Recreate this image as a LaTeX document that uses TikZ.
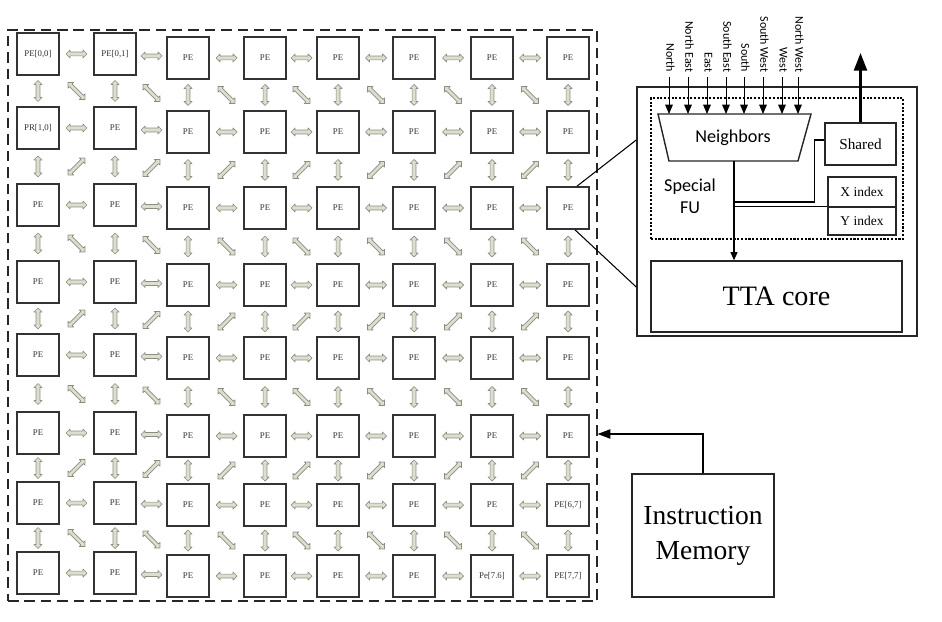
\documentclass[tikz,border=0pt]{standalone}
\usepackage{fontspec}
\setmainfont{Liberation Serif}
\newfontfamily\calib{Carlito}
\usetikzlibrary{arrows.meta,calc}
\definecolor{arrfill}{HTML}{DEDED0}
\definecolor{arrdraw}{HTML}{8C8C80}
\tikzset{
  pe/.style={draw=black!80, line width=1.45pt, fill=white, minimum width=1.26cm, minimum height=1.26cm, inner sep=0pt, text=black!80, font=\fontsize{7.5}{9}\selectfont},
  box/.style={draw=black!85, line width=1.2pt, inner sep=0pt},
  dblarr/.pic={\draw[fill=arrfill,draw=arrdraw,line width=0.6pt,line join=round]
     (-#1,0) -- ({-#1+4},4) -- ({-#1+4},1.9) -- ({#1-4},1.9) -- ({#1-4},4) -- (#1,0)
     -- ({#1-4},-4) -- ({#1-4},-1.9) -- ({-#1+4},-1.9) -- ({-#1+4},-4) -- cycle;},
  dirlbl/.style={font=\calib\fontsize{10.2}{12}\selectfont, rotate=-90, anchor=east, inner sep=0pt},
  inarr/.style={-{Triangle[length=8pt,width=6.5pt]}, line width=0.8pt},
}
\expandafter\def\csname lab-0-0\endcsname{PE[0,0]}
\expandafter\def\csname lab-0-1\endcsname{PE[0,1]}
\expandafter\def\csname lab-1-0\endcsname{PR[1,0]}
\expandafter\def\csname lab-6-7\endcsname{PE[6,7]}
\expandafter\def\csname lab-7-6\endcsname{Pe[7.6]}
\expandafter\def\csname lab-7-7\endcsname{PE[7,7]}
\begin{document}
\begin{tikzpicture}[x=0.03cm,y=-0.03cm]
\useasboundingbox (0,0) rectangle (942,622);
\fill[white] (0,0) rectangle (942,622);

% dashed frame around the grid
\node[draw=black!85, line width=1pt, dash pattern=on 9pt off 5pt, minimum width=17.67cm, minimum height=17.13cm, inner sep=0pt] (frame) at (302.5,315.5) {};

% PE grid
\def\colx{{38,115,188,265,338,414,492,568}}
\def\rowA{{54,128,205,282,355,433,503,573}}
\def\rowB{{58,132,208,285,358,436,505,576}}
\foreach \r in {0,...,7}{
  \foreach \c in {0,...,7}{
    \pgfmathsetmacro\xx{\colx[\c]}
    \pgfmathsetmacro\yy{\c<2 ? \rowA[\r] : \rowB[\r]}
    \node[pe] (p-\r-\c) at (\xx,\yy) {\ifcsname lab-\r-\c\endcsname\csname lab-\r-\c\endcsname\else PE\fi};
  }
}
% horizontal links
\foreach \r in {0,...,7}{
  \foreach \c [evaluate=\c as \d using int(\c+1)] in {0,...,6}{
    \pic at ($(p-\r-\c)!0.5!(p-\r-\d)$) {dblarr=10.5};
  }
}
% vertical links
\foreach \r [evaluate=\r as \s using int(\r+1)] in {0,...,6}{
  \foreach \c in {0,...,7}{
    \pic[rotate=90] at ($(p-\r-\c)!0.5!(p-\s-\c)$) {dblarr=10.5};
  }
}
% diagonal links
\foreach \r [evaluate=\r as \s using int(\r+1), evaluate=\r as \a using {-45+90*mod(\r,2)}] in {0,...,6}{
  \foreach \c [evaluate=\c as \d using int(\c+1)] in {0,...,6}{
    \pic[rotate=\a] at ($(p-\r-\c)!0.5!(p-\s-\d)$) {dblarr=12};
  }
}

% detail panel
\node[box, line width=1.3pt, minimum width=8.4cm, minimum height=7.47cm] (panel) at (777,211.5) {};
\node[draw=black, line width=1.3pt, dash pattern=on 1.8pt off 1.4pt, minimum width=7.56cm, minimum height=4.23cm, inner sep=0pt] (sfu) at (777,168.5) {};
\node[box, minimum width=7.53cm, minimum height=2.13cm, font=\fontsize{24}{28}\selectfont] (tta) at (776.5,296.5) {TTA core};
\node[box, minimum width=2.13cm, minimum height=1.26cm, font=\fontsize{13}{15}\selectfont] (shared) at (860.5,144) {Shared};
\node[box, minimum width=2.04cm, minimum height=0.9cm, font=\fontsize{11.5}{13}\selectfont] (xidx) at (862,192) {X index};
\node[box, minimum width=2.04cm, minimum height=0.84cm, font=\fontsize{11.5}{13}\selectfont] (yidx) at (862,221) {Y index};

% Neighbors mux
\draw[box] (658,114) coordinate (ntl) -- (811,114) coordinate (ntr) -- (798,161) coordinate (nbr) -- (669,161) coordinate (nbl) -- cycle;
\coordinate (nbot) at (734,161);
\node[font=\calib\fontsize{15.5}{18}\selectfont] (nbrs) at (733,137.5) {Neighbors};
\node[font=\calib\fontsize{15.5}{18.8}\selectfont, align=center] (sfulbl) at (690,196) {Special\\FU};

% direction inputs
\foreach \xa/\t [count=\i] in {669/North, 688/North East, 707/East, 726/South East, 744/South, 763/South West, 782/West, 798/North West}{
  \node[dirlbl] (dir-\i) at (\xa+1.5,72.5) {\t};
  \coordinate (in-\i) at (\xa,77);
  \draw[inarr] (in-\i) -- (in-\i |- ntl);
}

% internal wiring
\draw[line width=0.9pt] ([yshift=3.4pt]shared.west) -- ++(-10,0) |- (nbot |- 0,202);
\draw[line width=0.9pt] (nbot |- yidx.north west) -- (yidx.north west);
\draw[line width=0.9pt, -{Triangle[length=7pt,width=6pt]}] (nbot) -- (nbot |- tta.north);
\draw[line width=2.2pt, -{Triangle[length=15pt,width=11pt]}] (shared.north) -- (shared.north |- 0,53);

% zoom lines from PE to panel
\draw[line width=0.9pt] ([xshift=7.7pt]p-2-7.north) -- (panel.west |- 0,140);
\draw[line width=0.9pt] ([xshift=6pt]p-2-7.south) -- (panel.west |- 0,287);

% instruction memory
\node[box, minimum width=4.26cm, minimum height=3.69cm, align=center, font=\fontsize{23.5}{30}\selectfont] (im) at (703,535.5) {Instruction\\Memory};
\draw[line width=1pt, -{Triangle[length=11pt,width=8pt]}] (im.north) -- (im.north |- 0,434) -- (frame.east |- 0,434);
\end{tikzpicture}
\end{document}
